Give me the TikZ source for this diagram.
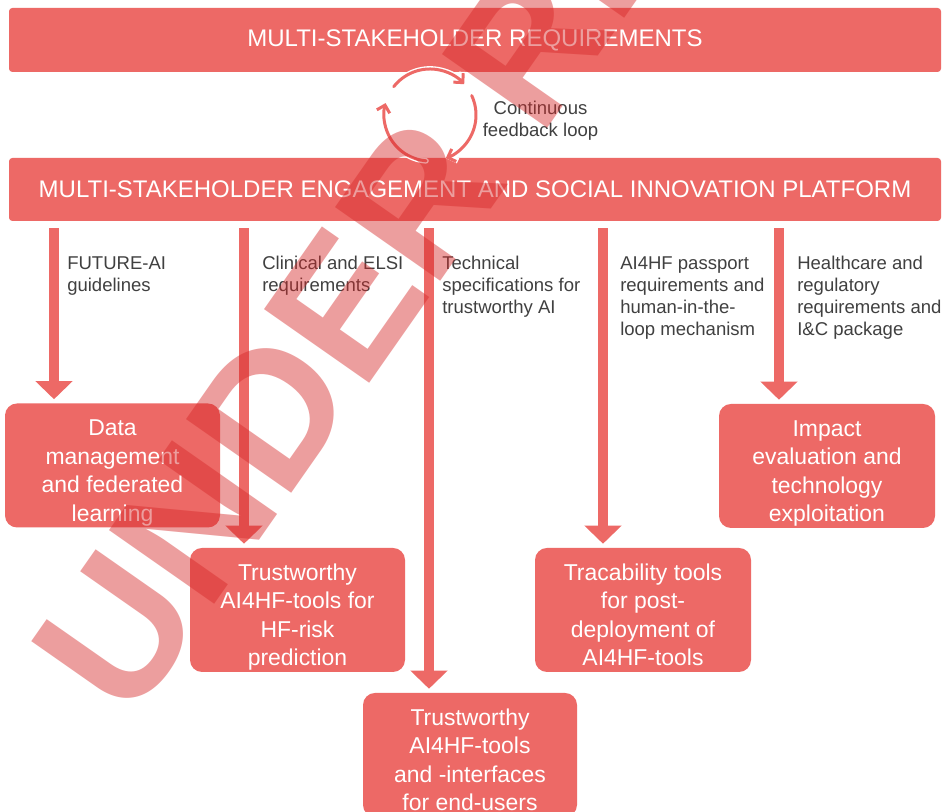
\documentclass[tikz,border=0pt]{standalone}
\usepackage{fontspec}
\setmainfont{Liberation Sans}
\usetikzlibrary{arrows.meta,calc}
\definecolor{boxred}{RGB}{237,105,102}
\definecolor{labelgray}{RGB}{64,64,64}
\definecolor{wmred}{RGB}{214,40,40}
\newcommand\bxtop{\rule{0pt}{23.5pt}}
\newcommand\bxbot{\rule[-4pt]{0pt}{4pt}}
\begin{document}
\begin{tikzpicture}[x=0.75pt,y=0.75pt,
  banner/.style={fill=boxred, rounded corners=2.5pt, text=white, font=\fontsize{18}{21}\selectfont, minimum width=699pt, minimum height=48pt, inner sep=0pt},
  outbox/.style={fill=boxred, rounded corners=9pt, text=white, align=center, font=\fontsize{17.2}{21.4}\selectfont, inner sep=0pt, minimum width=161.25pt, minimum height=93pt},
  flowlabel/.style={anchor=north west, align=left, text=labelgray, inner sep=0pt, font=\fontsize{13.9}{16.5}\selectfont},
  bigarrow/.style={draw=boxred, line width=7.5pt, -{Triangle[width=27pt,length=13.5pt]}, shorten <=5.25pt, shorten >=3pt},
  loopback/.style={draw=white, line width=4.25pt, line cap=round, -{Straight Barb[length=5pt,width=10pt]}},
  loopline/.style={draw=boxred, line width=2.25pt, line cap=round, -{Straight Barb[length=5pt,width=10pt]}},
  watermark/.style={anchor=base west, rotate=55, text=wmred, text opacity=0.45, inner sep=0pt, font=\fontsize{140}{140}\selectfont\bfseries}
]
\useasboundingbox (0,0) rectangle (951,812);
\begin{scope}
\clip (0,0) rectangle (951,812);
\fill[white] (0,0) rectangle (951,812);

% banners
\node[banner] (req) at (475,772) {MULTI-STAKEHOLDER REQUIREMENTS};
\node[banner, minimum height=47.25pt] (eng) at (475,622.5) {MULTI-STAKEHOLDER ENGAGEMENT AND SOCIAL INNOVATION PLATFORM};

% output boxes
\node[outbox] (data) at (112.5,346.5) {\bxtop Data\\management\\and federated\\learning\bxbot};
\node[outbox] (hfrisk) at (297.5,202) {\bxtop Trustworthy\\AI4HF-tools for\\HF-risk\\prediction\bxbot};
\node[outbox, minimum width=160.5pt] (interf) at (470,57) {\bxtop Trustworthy\\AI4HF-tools\\and -interfaces\\for end-users\bxbot};
\node[outbox, minimum width=162pt] (trace) at (643,202) {\bxtop Tracability tools\\for post-\\deployment of\\AI4HF-tools\bxbot};
\node[outbox, minimum width=162pt] (impact) at (827,346) {\bxtop Impact\\evaluation and\\technology\\exploitation\bxbot};

% arrow columns
\coordinate (c1) at (54,0);
\coordinate (c2) at (244,0);
\coordinate (c3) at (429,0);
\coordinate (c4) at (603,0);
\coordinate (c5) at (779,0);
\draw[bigarrow] (c1 |- eng.south) -- (c1 |- data.north);
\draw[bigarrow] (c2 |- eng.south) -- (c2 |- hfrisk.north);
\draw[bigarrow] (c3 |- eng.south) -- (c3 |- interf.north);
\draw[bigarrow] (c4 |- eng.south) -- (c4 |- trace.north);
\draw[bigarrow] (c5 |- eng.south) -- (c5 |- impact.north);

% labels
\node[flowlabel] (l1) at (67,556) {FUTURE-AI\\guidelines};
\node[flowlabel] (l2) at (262,556) {Clinical and ELSI\\requirements};
\node[flowlabel] (l3) at (442,556) {Technical\\specifications for\\trustworthy AI};
\node[flowlabel] (l4) at (620,556) {AI4HF passport\\requirements and\\human-in-the-\\loop mechanism};
\node[flowlabel] (l5) at (797,556) {Healthcare and\\regulatory\\requirements and\\I\&C package};

% feedback loop
\coordinate (lc) at (430,697);
\foreach \st/\en in {142/42, 25/-70, -95/-195}{
  \draw[loopback] ($(lc)+(\st:34.5pt)$) arc[start angle=\st, end angle=\en, radius=34.5pt];
  \draw[loopline] ($(lc)+(\st:34.5pt)$) arc[start angle=\st, end angle=\en, radius=34.5pt];
}
\node[align=center, text=labelgray, inner sep=0pt, font=\fontsize{13.9}{16.5}\selectfont] (fb) at (540.5,691) {Continuous\\feedback loop};

% watermark
\node[watermark] (wm) at (130,87) {UNDER REVIEW};
\end{scope}
\end{tikzpicture}
\end{document}
